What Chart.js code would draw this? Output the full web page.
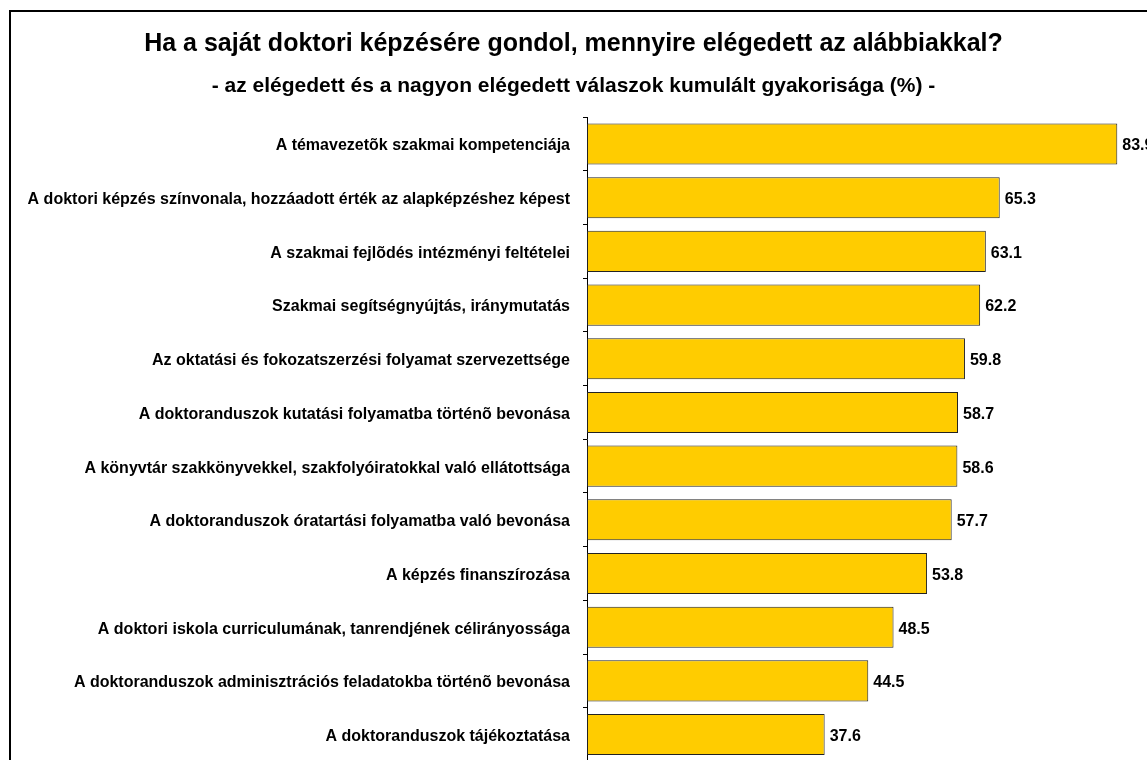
<!DOCTYPE html>
<html>
<head>
<meta charset="utf-8">
<script src="https://cdn.jsdelivr.net/npm/chart.js@4"></script>
<style>
  html, body { margin: 0; padding: 0; background: #fff; }
  #wrap { position: relative; width: 1147px; height: 760px; overflow: hidden; background: #fff; }
  #frame { position: absolute; left: 9px; top: 10px; width: 2000px; height: 2000px; border: 2px solid #000; box-sizing: border-box; }
  #box { position: absolute; left: 0; top: 0; width: 1147px; height: 784px; }
</style>
</head>
<body>
<div id="wrap">
  <div id="frame"></div>
  <div id="box"><canvas id="chart"></canvas></div>
</div>
<script>
const titleText = 'Ha a saját doktori képzésére gondol, mennyire elégedett az alábbiakkal?';
const subtitleText = '- az elégedett és a nagyon elégedett válaszok kumulált gyakorisága (%) -';

const categories = [
  'A témavezetõk szakmai kompetenciája',
  'A doktori képzés színvonala, hozzáadott érték az alapképzéshez képest',
  'A szakmai fejlõdés intézményi feltételei',
  'Szakmai segítségnyújtás, iránymutatás',
  'Az oktatási és fokozatszerzési folyamat szervezettsége',
  'A doktoranduszok kutatási folyamatba történõ bevonása',
  'A könyvtár szakkönyvekkel, szakfolyóiratokkal való ellátottsága',
  'A doktoranduszok óratartási folyamatba való bevonása',
  'A képzés finanszírozása',
  'A doktori iskola curriculumának, tanrendjének célirányossága',
  'A doktoranduszok adminisztrációs feladatokba történõ bevonása',
  'A doktoranduszok tájékoztatása'
];
const values = [83.9, 65.3, 63.1, 62.2, 59.8, 58.7, 58.6, 57.7, 53.8, 48.5, 44.5, 37.6];

const FONT = '"Liberation Sans", Arial, sans-serif';

// value labels at the bar ends
const valueLabels = {
  id: 'valueLabels',
  afterDatasetsDraw(chart) {
    const ctx = chart.ctx;
    const meta = chart.getDatasetMeta(0);
    ctx.save();
    ctx.font = 'bold 16px ' + FONT;
    ctx.fillStyle = '#000';
    ctx.textAlign = 'left';
    ctx.textBaseline = 'middle';
    meta.data.forEach((bar, i) => {
      ctx.fillText(values[i].toFixed(1), bar.x + 5, bar.y + 2);
    });
    ctx.restore();
  }
};

new Chart(document.getElementById('chart'), {
  type: 'bar',
  data: {
    labels: categories,
    datasets: [{
      data: values,
      backgroundColor: '#FFCC00',
      borderColor: '#222',
      borderWidth: 1,
      borderSkipped: false,
      categoryPercentage: 1,
      barPercentage: 0.765
    }]
  },
  options: {
    indexAxis: 'y',
    responsive: true,
    maintainAspectRatio: false,
    animation: false,
    layout: { padding: 0 },
    plugins: {
      legend: { display: false },
      tooltip: { enabled: false },
      title: {
        display: true,
        text: titleText,
        color: '#000',
        font: { family: FONT, size: 25, weight: 'bold' },
        padding: { top: 29, bottom: 15 }
      },
      subtitle: {
        display: true,
        text: subtitleText,
        color: '#000',
        font: { family: FONT, size: 21, weight: 'bold' },
        padding: { top: 0, bottom: 18 }
      }
    },
    scales: {
      x: {
        display: false,
        min: 0,
        max: 88.6
      },
      y: {
        afterFit(scale) { scale.width = 587; },
        grid: {
          display: true,
          offset: true,
          drawOnChartArea: false,
          tickLength: 4,
          color: '#000'
        },
        border: { display: true, color: '#000', width: 1 },
        ticks: {
          color: '#000',
          padding: 13,
          labelOffset: 2,
          font: { family: FONT, size: 16, weight: 'bold' }
        }
      }
    }
  },
  plugins: [valueLabels]
});
</script>
</body>
</html>
